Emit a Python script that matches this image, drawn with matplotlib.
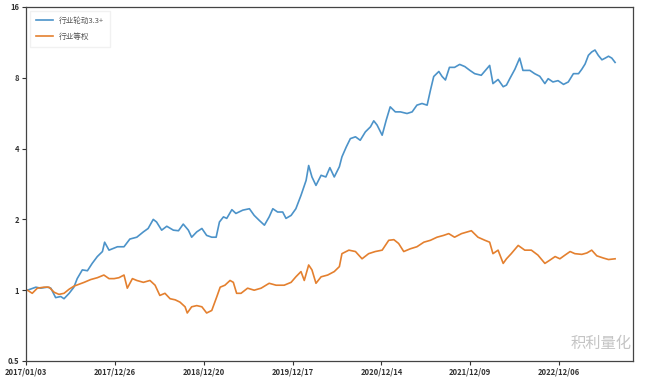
import matplotlib.pyplot as plt
from matplotlib.ticker import FixedLocator, NullLocator

plt.rcParams['font.family'] = ['Noto Sans CJK SC', 'DejaVu Sans']

# trading-day index of tick labels
tick_days = [0, 243, 486, 729, 972, 1215, 1458]
tick_labels = ['2017/01/03', '2017/12/26', '2018/12/20', '2019/12/17',
               '2020/12/14', '2021/12/09', '2022/12/06']

# 行业轮动3.3+ (net value)
rot_days = [4, 27, 40, 58, 68, 81, 95, 104, 118, 131, 140, 154, 168, 181, 195,
            209, 215, 227, 236, 250, 268, 284, 303, 321, 334, 348, 357, 371,
            385, 403, 417, 430, 444, 453, 467, 481, 494, 508, 520, 529, 540,
            549, 563, 574, 593, 611, 624, 638, 652, 665, 675, 688, 702, 711,
            725, 738, 752, 766, 773, 782, 793, 807, 820, 831, 843, 857, 864,
            876, 887, 901, 914, 928, 942, 951, 960, 974, 985, 996, 1010, 1024,
            1042, 1056, 1069, 1083, 1097, 1106, 1115, 1129, 1138, 1147, 1158,
            1172, 1186, 1200, 1214, 1227, 1245, 1259, 1268, 1277, 1291, 1305,
            1314, 1323, 1337, 1350, 1359, 1378, 1391, 1405, 1419, 1428, 1441,
            1455, 1470, 1483, 1497, 1511, 1520, 1529, 1538, 1547, 1556, 1565,
            1575, 1584, 1593, 1602, 1611]
rot_vals = [1.00, 1.03, 1.02, 1.03, 1.02, 0.93, 0.94, 0.92, 0.97, 1.03, 1.12,
            1.22, 1.21, 1.30, 1.39, 1.46, 1.60, 1.48, 1.50, 1.53, 1.53, 1.65,
            1.68, 1.77, 1.83, 2.00, 1.95, 1.80, 1.87, 1.80, 1.79, 1.91, 1.80,
            1.68, 1.77, 1.83, 1.71, 1.68, 1.68, 1.95, 2.05, 2.02, 2.20, 2.12,
            2.19, 2.22, 2.08, 1.98, 1.89, 2.05, 2.22, 2.15, 2.15, 2.02, 2.08,
            2.22, 2.53, 2.93, 3.39, 3.03, 2.79, 3.08, 3.03, 3.32, 3.03, 3.35,
            3.69, 4.07, 4.41, 4.49, 4.34, 4.71, 4.95, 5.25, 5.04, 4.56, 5.28,
            6.02, 5.73, 5.73, 5.64, 5.73, 6.12, 6.22, 6.12, 7.08, 8.10, 8.51,
            8.10, 7.83, 8.86, 8.86, 9.12, 8.93, 8.60, 8.33, 8.20, 8.70, 9.03,
            7.56, 7.87, 7.33, 7.45, 7.93, 8.70, 9.70, 8.60, 8.60, 8.33, 8.12,
            7.56, 7.93, 7.68, 7.78, 7.50, 7.68, 8.33, 8.33, 8.70, 9.16, 9.97,
            10.3, 10.5, 9.97, 9.54, 9.70, 9.88, 9.70, 9.30]

# 行业等权
eq_days = [4, 17, 31, 49, 63, 77, 90, 104, 118, 131, 145, 159, 177, 195, 213,
           227, 241, 254, 268, 277, 291, 303, 321, 339, 353, 366, 380, 394,
           408, 421, 435, 441, 453, 467, 481, 494, 508, 522, 531, 544, 558,
           567, 576, 588, 606, 624, 643, 665, 684, 706, 725, 738, 752, 761,
           773, 782, 793, 807, 825, 843, 857, 864, 883, 901, 919, 937, 955,
           974, 992, 1006, 1019, 1033, 1051, 1069, 1088, 1106, 1124, 1142,
           1156, 1172, 1191, 1218, 1236, 1255, 1268, 1277, 1291, 1305, 1314,
           1327, 1346, 1364, 1382, 1400, 1419, 1432, 1447, 1460, 1474, 1488,
           1501, 1520, 1534, 1547, 1561, 1579, 1593, 1611]
eq_vals = [1.00, 0.97, 1.02, 1.03, 1.03, 0.98, 0.96, 0.97, 1.01, 1.04, 1.06,
           1.08, 1.11, 1.13, 1.16, 1.12, 1.12, 1.13, 1.16, 1.02, 1.12, 1.10,
           1.08, 1.10, 1.05, 0.95, 0.97, 0.92, 0.91, 0.89, 0.85, 0.80, 0.85,
           0.86, 0.85, 0.80, 0.82, 0.94, 1.03, 1.05, 1.10, 1.08, 0.97, 0.97,
           1.02, 1.00, 1.02, 1.07, 1.05, 1.05, 1.08, 1.14, 1.20, 1.10, 1.28,
           1.22, 1.07, 1.14, 1.16, 1.20, 1.26, 1.43, 1.48, 1.46, 1.36, 1.43,
           1.46, 1.48, 1.63, 1.64, 1.58, 1.46, 1.50, 1.53, 1.60, 1.63, 1.68,
           1.71, 1.74, 1.68, 1.74, 1.79, 1.68, 1.63, 1.60, 1.43, 1.48, 1.30,
           1.36, 1.43, 1.55, 1.48, 1.48, 1.41, 1.30, 1.34, 1.39, 1.36, 1.41,
           1.46, 1.43, 1.42, 1.44, 1.48, 1.40, 1.37, 1.35, 1.36]

fig = plt.figure(figsize=(6.6, 3.8), dpi=100)
ax = fig.add_axes([0.0394, 0.05, 0.9197, 0.9316])

ax.plot(rot_days, rot_vals, color='#4c93c9', lw=1.2, label='行业轮动3.3+')
ax.plot(eq_days, eq_vals, color='#e4802f', lw=1.2, label='行业等权')

ax.set_yscale('log', base=2)
ax.set_ylim(0.5, 16)
ax.yaxis.set_major_locator(FixedLocator([0.5, 1, 2, 4, 8, 16]))
ax.yaxis.set_minor_locator(NullLocator())
ax.set_yticklabels(['0.5', '1', '2', '4', '8', '16'])
ax.set_xlim(0, 1660)
ax.set_xticks(tick_days)
ax.set_xticklabels(tick_labels)

ax.tick_params(labelsize=5.5, colors='#333333', length=3, width=0.8, pad=2)
for lbl in ax.get_xticklabels() + ax.get_yticklabels():
    lbl.set_fontweight('bold')
for sp in ax.spines.values():
    sp.set_color('#444444')
    sp.set_linewidth(0.9)

leg = ax.legend(loc='upper left', fontsize=5.5, frameon=True, handlelength=2.2,
                borderpad=0.8, labelspacing=1.0, fancybox=False)
leg.get_frame().set_edgecolor('#eeeeee')
for t in leg.get_texts():
    t.set_color('#555555')

ax.text(0.997, 0.025, '积利量化', transform=ax.transAxes, ha='right', va='bottom',
        fontsize=11, color='#c4c4c4')

fig.savefig('out.png', dpi=100)
